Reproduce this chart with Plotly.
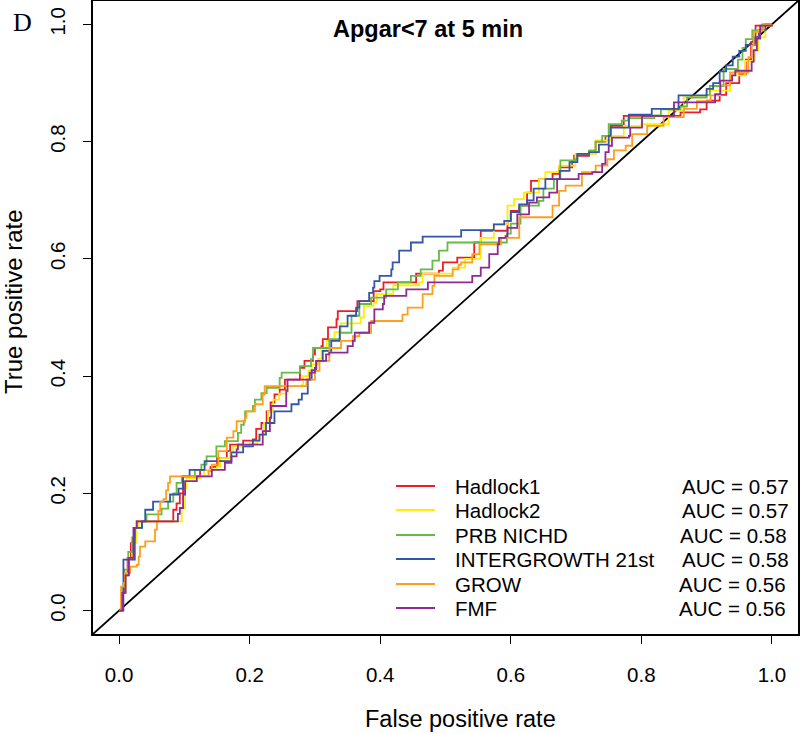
import plotly.graph_objects as go

# ---------------- data ----------------
series_names = ["Hadlock1", "Hadlock2", "PRB NICHD", "INTERGROWTH 21st", "GROW", "FMF"]
auc_labels = ["AUC = 0.57", "AUC = 0.57", "AUC = 0.58", "AUC = 0.58", "AUC = 0.56", "AUC = 0.56"]
series_colors = ["#EE1C25", "#FFEE00", "#66BB44", "#3355AA", "#FF9E1B", "#8E2A92"]

hadlock1_fpr = [0, 0.004, 0.008, 0.013, 0.018, 0.024, 0.027, 0.080, 0.083, 0.088, 0.093, 0.098, 0.121, 0.124, 0.14, 0.15, 0.165, 0.17, 0.19, 0.205, 0.21, 0.218, 0.226, 0.232, 0.238, 0.246, 0.254, 0.277, 0.277, 0.284, 0.284, 0.297, 0.300, 0.31, 0.312, 0.320, 0.333, 0.335, 0.36, 0.365, 0.385, 0.39, 0.40, 0.405, 0.45, 0.455, 0.49, 0.496, 0.518, 0.536, 0.544, 0.554, 0.592, 0.595, 0.6, 0.613, 0.625, 0.631, 0.643, 0.664, 0.674, 0.694, 0.697, 0.72, 0.73, 0.745, 0.753, 0.773, 0.773, 0.857, 0.86, 0.89, 0.9, 0.92, 0.93, 0.95, 0.96, 0.968, 0.975, 0.99, 1]
hadlock1_tpr = [0, 0.03, 0.06, 0.09, 0.115, 0.141, 0.152, 0.152, 0.172, 0.183, 0.2, 0.229, 0.229, 0.24, 0.245, 0.26, 0.272, 0.283, 0.29, 0.292, 0.31, 0.32, 0.34, 0.355, 0.369, 0.377, 0.394, 0.394, 0.414, 0.414, 0.426, 0.437, 0.448, 0.451, 0.463, 0.483, 0.497, 0.511, 0.511, 0.528, 0.528, 0.545, 0.548, 0.56, 0.56, 0.575, 0.58, 0.594, 0.602, 0.602, 0.628, 0.648, 0.648, 0.665, 0.682, 0.691, 0.713, 0.733, 0.736, 0.745, 0.756, 0.765, 0.776, 0.78, 0.80, 0.81, 0.827, 0.827, 0.844, 0.844, 0.85, 0.855, 0.87, 0.88, 0.9, 0.915, 0.94, 0.97, 0.998, 0.998, 1]

hadlock2_fpr = [0, 0.005, 0.01, 0.015, 0.02, 0.026, 0.03, 0.091, 0.096, 0.101, 0.103, 0.125, 0.13, 0.15, 0.155, 0.17, 0.175, 0.2, 0.212, 0.215, 0.222, 0.228, 0.236, 0.245, 0.258, 0.28, 0.282, 0.29, 0.295, 0.305, 0.31, 0.318, 0.33, 0.338, 0.34, 0.37, 0.375, 0.39, 0.395, 0.418, 0.42, 0.46, 0.465, 0.5, 0.511, 0.53, 0.554, 0.574, 0.595, 0.605, 0.620, 0.643, 0.653, 0.671, 0.674, 0.699, 0.725, 0.730, 0.753, 0.77, 0.773, 0.80, 0.842, 0.865, 0.888, 0.90, 0.936, 0.954, 0.959, 0.974, 0.979, 0.99, 1]
hadlock2_tpr = [0, 0.03, 0.06, 0.09, 0.115, 0.141, 0.152, 0.152, 0.175, 0.209, 0.226, 0.229, 0.24, 0.245, 0.26, 0.27, 0.28, 0.285, 0.29, 0.30, 0.32, 0.34, 0.36, 0.37, 0.383, 0.385, 0.4, 0.41, 0.42, 0.43, 0.443, 0.46, 0.475, 0.475, 0.49, 0.5, 0.52, 0.525, 0.54, 0.54, 0.555, 0.56, 0.575, 0.575, 0.585, 0.6, 0.636, 0.659, 0.691, 0.702, 0.713, 0.736, 0.748, 0.748, 0.759, 0.779, 0.779, 0.802, 0.81, 0.81, 0.827, 0.83, 0.853, 0.876, 0.876, 0.887, 0.913, 0.913, 0.938, 0.956, 0.978, 0.998, 1]

prb_fpr = [0, 0.004, 0.008, 0.014, 0.02, 0.024, 0.035, 0.042, 0.042, 0.063, 0.065, 0.075, 0.075, 0.080, 0.083, 0.088, 0.096, 0.096, 0.114, 0.116, 0.126, 0.134, 0.144, 0.149, 0.162, 0.180, 0.182, 0.187, 0.191, 0.193, 0.205, 0.208, 0.218, 0.226, 0.246, 0.249, 0.277, 0.277, 0.294, 0.297, 0.315, 0.322, 0.338, 0.356, 0.368, 0.386, 0.409, 0.427, 0.447, 0.462, 0.480, 0.49, 0.503, 0.590, 0.594, 0.60, 0.615, 0.643, 0.65, 0.666, 0.676, 0.699, 0.702, 0.72, 0.73, 0.74, 0.75, 0.77, 0.78, 0.80, 0.82, 0.83, 0.86, 0.87, 0.90, 0.905, 0.926, 0.94, 0.948, 0.955, 0.96, 0.97, 0.985, 1]
prb_tpr = [0, 0.04, 0.07, 0.1, 0.125, 0.141, 0.152, 0.152, 0.164, 0.164, 0.174, 0.174, 0.186, 0.186, 0.2, 0.218, 0.218, 0.229, 0.229, 0.24, 0.249, 0.263, 0.263, 0.28, 0.289, 0.289, 0.303, 0.317, 0.323, 0.34, 0.349, 0.36, 0.371, 0.38, 0.397, 0.406, 0.406, 0.417, 0.429, 0.448, 0.448, 0.463, 0.474, 0.503, 0.523, 0.534, 0.548, 0.56, 0.571, 0.582, 0.597, 0.614, 0.628, 0.628, 0.643, 0.66, 0.691, 0.699, 0.72, 0.736, 0.768, 0.77, 0.779, 0.785, 0.8, 0.81, 0.83, 0.836, 0.84, 0.84, 0.845, 0.855, 0.86, 0.875, 0.88, 0.895, 0.924, 0.924, 0.94, 0.96, 0.975, 0.99, 1, 1]

ig21_fpr = [0, 0.0066, 0.013, 0.024, 0.035, 0.040, 0.040, 0.052, 0.052, 0.078, 0.078, 0.091, 0.091, 0.098, 0.108, 0.108, 0.131, 0.131, 0.170, 0.172, 0.19, 0.205, 0.215, 0.225, 0.238, 0.259, 0.264, 0.275, 0.28, 0.289, 0.295, 0.302, 0.312, 0.325, 0.338, 0.350, 0.363, 0.368, 0.383, 0.389, 0.391, 0.399, 0.417, 0.419, 0.429, 0.447, 0.465, 0.524, 0.524, 0.574, 0.574, 0.59, 0.6, 0.613, 0.625, 0.635, 0.653, 0.666, 0.675, 0.69, 0.702, 0.72, 0.735, 0.75, 0.753, 0.776, 0.781, 0.816, 0.816, 0.857, 0.857, 0.890, 0.90, 0.91, 0.92, 0.93, 0.94, 0.95, 0.96, 0.974, 0.98, 0.99, 1]
ig21_tpr = [0, 0.087, 0.087, 0.141, 0.152, 0.152, 0.172, 0.172, 0.186, 0.186, 0.198, 0.198, 0.208, 0.229, 0.229, 0.24, 0.24, 0.255, 0.255, 0.27, 0.28, 0.29, 0.30, 0.32, 0.34, 0.34, 0.352, 0.36, 0.37, 0.394, 0.41, 0.426, 0.443, 0.46, 0.485, 0.503, 0.517, 0.528, 0.542, 0.551, 0.562, 0.571, 0.582, 0.594, 0.614, 0.628, 0.638, 0.638, 0.649, 0.649, 0.659, 0.665, 0.68, 0.693, 0.70, 0.72, 0.736, 0.736, 0.75, 0.765, 0.779, 0.782, 0.795, 0.81, 0.824, 0.824, 0.846, 0.846, 0.856, 0.856, 0.879, 0.879, 0.89, 0.9, 0.92, 0.93, 0.945, 0.955, 0.965, 0.978, 0.99, 1, 1]

grow_fpr = [0, 0.003, 0.007, 0.009, 0.017, 0.027, 0.030, 0.032, 0.040, 0.040, 0.050, 0.055, 0.058, 0.06, 0.063, 0.068, 0.072, 0.075, 0.078, 0.137, 0.137, 0.142, 0.152, 0.152, 0.165, 0.165, 0.175, 0.180, 0.193, 0.195, 0.208, 0.220, 0.223, 0.287, 0.287, 0.300, 0.307, 0.322, 0.340, 0.358, 0.368, 0.383, 0.386, 0.434, 0.434, 0.442, 0.455, 0.465, 0.480, 0.483, 0.508, 0.511, 0.52, 0.524, 0.541, 0.552, 0.585, 0.608, 0.613, 0.661, 0.664, 0.674, 0.684, 0.707, 0.709, 0.727, 0.730, 0.745, 0.748, 0.758, 0.776, 0.786, 0.809, 0.834, 0.865, 0.883, 0.885, 0.906, 0.921, 0.934, 0.936, 0.96, 0.964, 0.969, 0.972, 0.979, 0.987, 1]
grow_tpr = [0, 0.041, 0.047, 0.064, 0.075, 0.078, 0.092, 0.109, 0.109, 0.118, 0.118, 0.138, 0.152, 0.17, 0.186, 0.19, 0.205, 0.218, 0.229, 0.229, 0.238, 0.249, 0.26, 0.272, 0.272, 0.295, 0.306, 0.323, 0.329, 0.34, 0.352, 0.369, 0.383, 0.383, 0.394, 0.409, 0.426, 0.448, 0.46, 0.468, 0.474, 0.474, 0.494, 0.494, 0.505, 0.517, 0.517, 0.54, 0.554, 0.571, 0.571, 0.582, 0.59, 0.594, 0.608, 0.625, 0.636, 0.636, 0.671, 0.671, 0.691, 0.716, 0.725, 0.725, 0.748, 0.748, 0.759, 0.759, 0.770, 0.785, 0.793, 0.813, 0.827, 0.842, 0.856, 0.856, 0.869, 0.879, 0.896, 0.896, 0.918, 0.918, 0.944, 0.964, 0.987, 0.99, 1.0, 1]

fmf_fpr = [0, 0.005, 0.01, 0.015, 0.022, 0.027, 0.027, 0.086, 0.09, 0.093, 0.098, 0.101, 0.116, 0.119, 0.139, 0.142, 0.159, 0.162, 0.170, 0.172, 0.180, 0.182, 0.218, 0.220, 0.231, 0.233, 0.254, 0.256, 0.258, 0.289, 0.292, 0.300, 0.302, 0.317, 0.322, 0.348, 0.350, 0.358, 0.361, 0.378, 0.383, 0.391, 0.404, 0.406, 0.437, 0.44, 0.47, 0.473, 0.541, 0.541, 0.552, 0.554, 0.567, 0.580, 0.582, 0.592, 0.595, 0.61, 0.628, 0.640, 0.659, 0.671, 0.671, 0.702, 0.704, 0.725, 0.740, 0.745, 0.750, 0.755, 0.781, 0.783, 0.801, 0.801, 0.842, 0.85, 0.90, 0.913, 0.921, 0.939, 0.944, 0.964, 0.969, 0.972, 0.977, 0.982, 0.997, 1]
fmf_tpr = [0, 0.03, 0.06, 0.09, 0.141, 0.141, 0.152, 0.152, 0.165, 0.175, 0.198, 0.221, 0.221, 0.229, 0.229, 0.24, 0.24, 0.252, 0.252, 0.263, 0.275, 0.283, 0.283, 0.306, 0.329, 0.349, 0.349, 0.375, 0.394, 0.394, 0.406, 0.414, 0.426, 0.437, 0.44, 0.44, 0.451, 0.46, 0.474, 0.474, 0.491, 0.514, 0.523, 0.537, 0.537, 0.548, 0.548, 0.56, 0.56, 0.571, 0.571, 0.585, 0.608, 0.625, 0.636, 0.639, 0.653, 0.676, 0.696, 0.705, 0.713, 0.713, 0.736, 0.736, 0.745, 0.748, 0.762, 0.782, 0.793, 0.807, 0.810, 0.824, 0.824, 0.844, 0.844, 0.867, 0.867, 0.881, 0.904, 0.913, 0.921, 0.921, 0.936, 0.956, 0.976, 0.998, 0.998, 1]

series_fpr = [hadlock1_fpr, hadlock2_fpr, prb_fpr, ig21_fpr, grow_fpr, fmf_fpr]
series_tpr = [hadlock1_tpr, hadlock2_tpr, prb_tpr, ig21_tpr, grow_tpr, fmf_tpr]

x_ticks = [0.0, 0.2, 0.4, 0.6, 0.8, 1.0]
y_ticks = [0.0, 0.2, 0.4, 0.6, 0.8, 1.0]
tick_text = ["0.0", "0.2", "0.4", "0.6", "0.8", "1.0"]
axis_range = [-0.04, 1.04]
chance_line = axis_range

title_text = "Apgar<7 at 5 min"
panel_letter = "D"
x_title = "False positive rate"
y_title = "True positive rate"

# ---------------- figure ----------------
W, H = 800, 734
ML, MR, MT, MB = 93, 2, 1, 100
PW, PH = W - ML - MR, H - MT - MB

def px_x(px):
    return (px - ML) / PW

def px_y(py):
    return (MT + PH - py) / PH

SANS = "Liberation Sans, Arial, Helvetica, sans-serif"

fig = go.Figure()

fig.add_trace(go.Scatter(x=chance_line, y=chance_line, mode="lines",
                         line=dict(color="black", width=1.8), hoverinfo="skip",
                         showlegend=False))

for name, xs, ys, col in zip(series_names, series_fpr, series_tpr, series_colors):
    fig.add_trace(go.Scatter(x=xs, y=ys, mode="lines", name=name,
                             line=dict(color=col, width=1.8, shape="hv"),
                             showlegend=False))

axis_common = dict(range=axis_range, showgrid=False, zeroline=False, automargin=False,
                   showline=True, linecolor="black", linewidth=1.6, mirror=True,
                   ticks="outside", ticklen=8, tickwidth=1.4, tickcolor="black",
                   tickfont=dict(family=SANS, size=20.5, color="black"),
                   tickvals=x_ticks, ticktext=tick_text)

fig.update_xaxes(**axis_common, ticklabelstandoff=14)
fig.update_yaxes(**dict(axis_common, tickvals=y_ticks), tickangle=-90, ticklabelstandoff=10)

annotations = [
    dict(text=f"<b>{title_text}</b>", x=px_x(428), y=px_y(29), xref="paper", yref="paper",
         showarrow=False, xanchor="center", yanchor="middle",
         font=dict(family=SANS, size=23.5, color="black")),
    dict(text=panel_letter, x=px_x(11), y=px_y(22), xref="paper", yref="paper",
         showarrow=False, xanchor="left", yanchor="middle",
         font=dict(family="Liberation Serif, Times New Roman, serif", size=26, color="black")),
    dict(text=x_title, x=px_x(460), y=px_y(719), xref="paper", yref="paper",
         showarrow=False, xanchor="center", yanchor="middle",
         font=dict(family=SANS, size=23.5, color="black")),
    dict(text=y_title, x=px_x(14), y=px_y(302), xref="paper", yref="paper",
         showarrow=False, xanchor="center", yanchor="middle", textangle=-90,
         font=dict(family=SANS, size=24, color="black")),
]

shapes = []
legend_rows = [486, 510, 535, 559, 584, 608]
auc_left = [680, 680, 678, 680, 677, 677]
for name, auc, col, py, ax in zip(series_names, auc_labels, series_colors, legend_rows, auc_left):
    shapes.append(dict(type="line", xref="paper", yref="paper",
                       x0=px_x(396), x1=px_x(435), y0=px_y(py), y1=px_y(py),
                       line=dict(color=col, width=2.2)))
    annotations.append(dict(text=name, x=px_x(453), y=px_y(py), xref="paper", yref="paper",
                            showarrow=False, xanchor="left", yanchor="middle",
                            font=dict(family=SANS, size=20.5, color="black")))
    annotations.append(dict(text=auc, x=px_x(ax), y=px_y(py), xref="paper", yref="paper",
                            showarrow=False, xanchor="left", yanchor="middle",
                            font=dict(family=SANS, size=20.5, color="black")))

fig.update_layout(width=W, height=H, margin=dict(l=ML, r=MR, t=MT, b=MB, autoexpand=False),
                  plot_bgcolor="white", paper_bgcolor="white",
                  annotations=annotations, shapes=shapes, showlegend=False)

fig.write_html("out.html", config={"displayModeBar": False},
               post_script="document.body.style.margin='0px';document.body.style.padding='0px';")
